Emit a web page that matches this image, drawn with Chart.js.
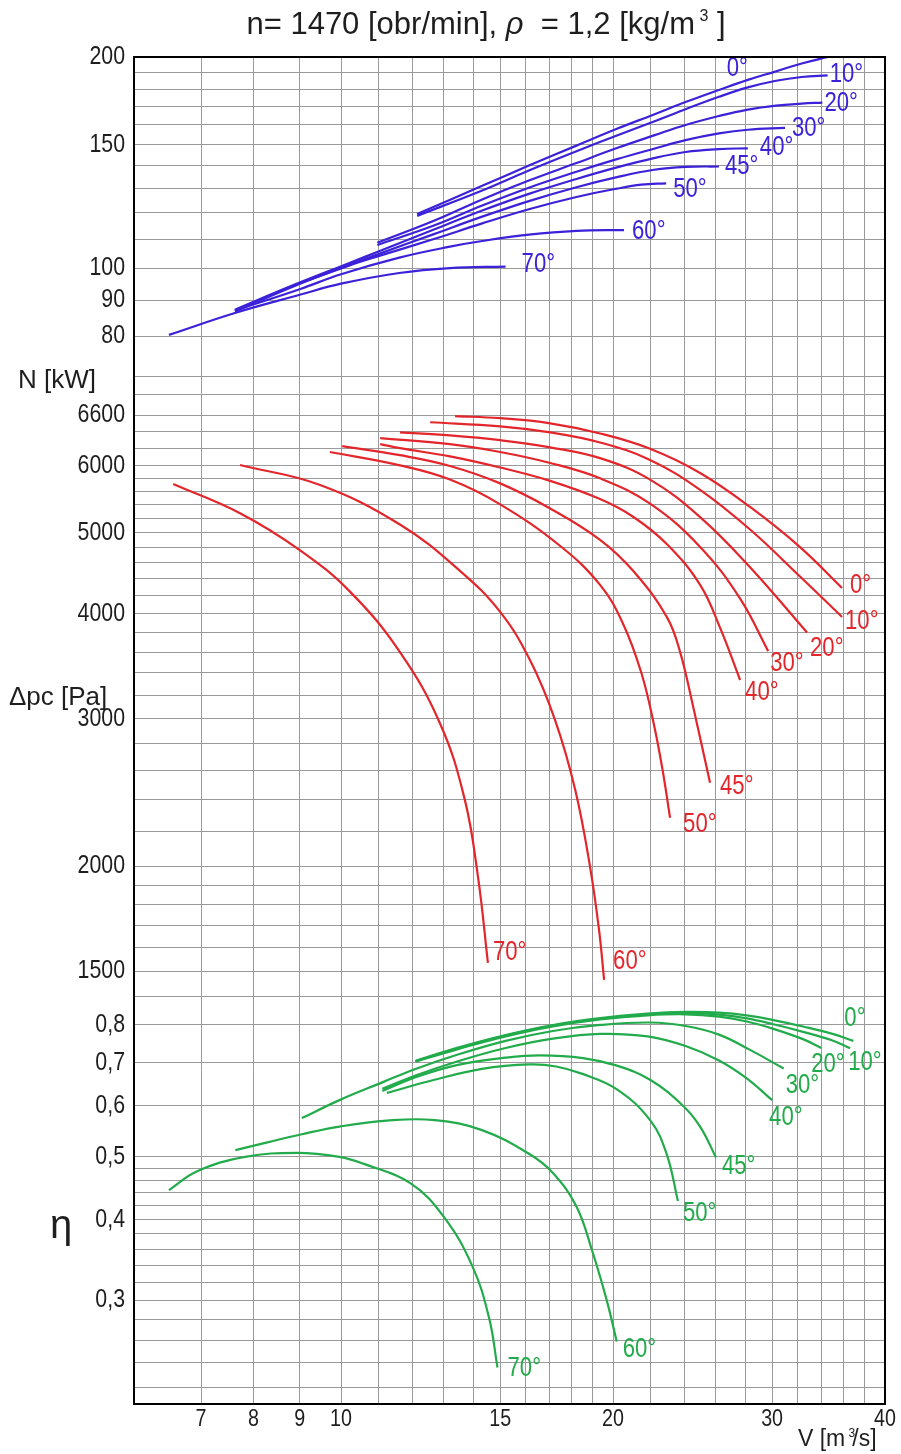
<!DOCTYPE html>
<html>
<head>
<meta charset="utf-8">
<title>Charakterystyka wentylatora</title>
<script src="https://cdn.jsdelivr.net/npm/chart.js@4"></script>
<style>
  html, body { margin: 0; padding: 0; background: #fff; }
  #wrap { position: relative; width: 901px; height: 1454px; }
</style>
</head>
<body>
<div id="wrap"><canvas id="fanChart"></canvas></div>
<script>
// blade angle of every curve, same order in all three panels
const angles = ['0°', '10°', '20°', '30°', '40°', '45°', '50°', '60°', '70°'];

// x axis: flow V [m3/s]
const vGrid = [7, 8, 9, 10, 11, 12, 13, 14, 15, 16, 17, 18, 19, 20, 22, 24, 26, 28, 30, 32, 34, 36, 38, 40];
const vLabeled = [7, 8, 9, 10, 15, 20, 30, 40];

// power panel N [kW]
const nGrid = [70, 80, 90, 100, 110, 120, 130, 140, 150, 160, 170, 180, 190, 200];
const nLabeled = [80, 90, 100, 150, 200];

// pressure panel dpc [Pa]
const pGrid = [7300, 6900, 6600, 6300, 6000, 5800, 5600, 5400, 5200, 5000, 4800, 4600, 4400, 4200,
  4000, 3800, 3600, 3400, 3200, 3000, 2800, 2600, 2400, 2200, 2000, 1900, 1800, 1700, 1600, 1500, 1400];
const pLabels = [[6900, '6600'], [6000, '6000'], [5000, '5000'], [4000, '4000'], [3000, '3000'], [2000, '2000'], [1500, '1500']];

// efficiency panel
const etaGrid = [0.22, 0.24, 0.26, 0.28, 0.3, 0.32, 0.34, 0.36, 0.38, 0.4, 0.42, 0.44, 0.46, 0.48, 0.5, 0.6, 0.7, 0.8];
const etaLabeled = [0.3, 0.4, 0.5, 0.6, 0.7, 0.8];

// N(V) curves, [V, N]
const powerCurves = [
  [[12.14, 119.4], [14.33, 131], [16.14, 140], [18.22, 149.5], [20.2, 158], [22.2, 165.6], [24.06, 172.5], [26.2, 179.5], [28.2, 185.5], [30.3, 190.8], [32.35, 195.8], [34.56, 200]],
  [[12.14, 118.7], [14.33, 129], [16.14, 137.8], [18.22, 146.8], [20.2, 154.6], [22.2, 161.8], [24.06, 168.5], [26.2, 175.5], [28.2, 181], [30.3, 185], [32.35, 187.3], [34.56, 188.3]],
  [[10.97, 108.7], [12.67, 116.8], [14.33, 125.3], [16.14, 133.3], [18.22, 141.2], [20.2, 148.3], [22.2, 154.6], [24.06, 160], [26.2, 164.8], [28.2, 168.3], [30.3, 170.5], [32.35, 171.6], [34.1, 172.2]],
  [[10.97, 107.9], [12.67, 115], [14.33, 122.8], [16.14, 130.2], [18.22, 137.2], [20.2, 143], [22.2, 148], [24.06, 152.2], [26.2, 155.6], [28.2, 157.5], [31, 158.5]],
  [[7.63, 87.2], [8.83, 94.4], [10.2, 101.6], [11, 105.6], [12.67, 113.5], [14.33, 120.8], [16.14, 127.6], [18.22, 134], [20.2, 139.2], [22.2, 143.5], [24.06, 146.4], [26.2, 147.8], [28.2, 148.2]],
  [[7.63, 86.7], [8.83, 94], [10.2, 101], [11, 104.7], [12.67, 111.8], [14.33, 118.4], [16.14, 124.6], [18.22, 130.4], [20.2, 134.8], [22.2, 138.1], [24.06, 139.4], [26.2, 139.6]],
  [[7.63, 87], [8.83, 94.2], [10.2, 100.8], [11, 104], [12.67, 110], [14.33, 115.8], [16.14, 121.3], [18.22, 126.3], [20.2, 129.8], [21.5, 131.5], [22.9, 132.1]],
  [[7.63, 87], [9.0, 93.3], [10, 98], [11.6, 103.5], [13.2, 107.3], [14.33, 109.3], [16.14, 111.6], [18.22, 113], [20.57, 113.3]],
  [[6.45, 80.3], [7.63, 86.3], [9.0, 91.6], [10, 95], [11.6, 98.4], [13.2, 100], [15.21, 100.5]]
];

// dpc(V) curves, [V, dpc]
const pressureCurves = [
  [[13.37, 6880], [15, 6840], [17.04, 6745], [19.35, 6560], [21.98, 6290], [24.97, 5886], [28.36, 5362], [32.21, 4803], [35.85, 4293]],
  [[12.55, 6765], [15, 6690], [17.04, 6580], [19.35, 6400], [21.98, 6100], [24.97, 5620], [28.36, 5040], [32.21, 4430], [35.85, 3965]],
  [[11.62, 6580], [13.2, 6525], [15, 6440], [17.04, 6315], [19.35, 6130], [21.98, 5780], [24.97, 5215], [28.36, 4545], [32.79, 3800]],
  [[11.05, 6475], [13.2, 6370], [15, 6235], [17.04, 6050], [19.35, 5800], [21.98, 5410], [24.97, 4805], [27.65, 4170], [29.7, 3610]],
  [[11.05, 6370], [11.62, 6300], [13.2, 6160], [15, 5975], [17.04, 5760], [19.35, 5480], [21.05, 5220], [22.95, 4840], [24.97, 4330], [26.27, 3850], [27.65, 3335]],
  [[10.03, 6335], [11.62, 6180], [13.2, 6000], [15, 5720], [17.04, 5340], [19.35, 4900], [21.05, 4500], [22.95, 3960], [23.73, 3600], [24.53, 3100], [25.61, 2515]],
  [[9.72, 6235], [11.62, 6010], [13.2, 5780], [15, 5400], [17.47, 4820], [19.35, 4330], [20.5, 3900], [21.5, 3400], [22.2, 2950], [22.7, 2600], [23.13, 2285]],
  [[7.73, 6015], [9.48, 5695], [11.62, 5110], [13.54, 4500], [15, 4020], [16.19, 3520], [17.25, 2990], [18.16, 2470], [18.86, 2000], [19.3, 1680], [19.55, 1465]],
  [[6.52, 5710], [7.73, 5270], [9.01, 4760], [10.23, 4250], [11.62, 3600], [12.87, 2960], [13.71, 2400], [14.18, 1940], [14.54, 1535]]
];

// eta(V) curves, [V, eta]
const etaCurves = [
  [[12.09, 0.704], [13.47, 0.738], [15.21, 0.772], [17.16, 0.8], [19.36, 0.82], [21.84, 0.833], [24.06, 0.838], [26.2, 0.836], [28.13, 0.828], [30.1, 0.814], [32.54, 0.795], [34.99, 0.775], [36.9, 0.756]],
  [[12.09, 0.703], [13.47, 0.736], [15.21, 0.77], [17.16, 0.798], [19.36, 0.818], [21.84, 0.831], [24.06, 0.835], [26.2, 0.83], [28.13, 0.819], [30.1, 0.802], [32.54, 0.78], [34.99, 0.757], [36.6, 0.736]],
  [[12.09, 0.702], [13.47, 0.734], [15.21, 0.768], [17.16, 0.796], [19.36, 0.816], [21.84, 0.828], [24.06, 0.831], [26.2, 0.824], [28.13, 0.81], [30.1, 0.789], [32.5, 0.76], [34.0, 0.737]],
  [[9.05, 0.574], [9.96, 0.612], [11.11, 0.652], [12.09, 0.684], [13.47, 0.72], [15.21, 0.756], [17.16, 0.783], [19.36, 0.8], [22, 0.807], [24.06, 0.797], [26.2, 0.773], [28.36, 0.732], [30.9, 0.685]],
  [[11.11, 0.637], [12.09, 0.668], [13.47, 0.703], [15.21, 0.737], [17.16, 0.762], [19.36, 0.775], [21.84, 0.768], [24.06, 0.742], [26.2, 0.705], [28.1, 0.662], [30.0, 0.612]],
  [[11.11, 0.632], [12.09, 0.664], [13.47, 0.694], [15.21, 0.712], [16.6, 0.718], [18.53, 0.711], [20.2, 0.692], [21.98, 0.658], [23.9, 0.6], [24.97, 0.557], [26.0, 0.499]],
  [[11.24, 0.628], [12.69, 0.658], [14.32, 0.684], [16.16, 0.695], [17.3, 0.69], [18.5, 0.672], [20.2, 0.636], [21.98, 0.57], [22.93, 0.505], [23.6, 0.427]],
  [[7.64, 0.512], [8.31, 0.527], [9.05, 0.542], [9.96, 0.557], [11.24, 0.569], [12.69, 0.57], [14.32, 0.55], [16.16, 0.505], [17.16, 0.472], [18.22, 0.419], [18.95, 0.359], [19.68, 0.3], [20.19, 0.259]],
  [[6.45, 0.444], [6.93, 0.475], [7.83, 0.5], [8.94, 0.507], [9.96, 0.5], [10.58, 0.488], [11.94, 0.455], [12.99, 0.404], [13.97, 0.339], [14.58, 0.282], [14.9, 0.236]]
];

// where each angle label sits relative to the end of its curve (px)
const powerLabelPos = [[-101, 12], [2, -1], [2, 1], [7, 1], [12, -1], [6, 0], [7, 6], [8, 1], [16, -2]];
const pressureLabelPos = [[8, -2], [3, 5], [3, 16], [2, 12], [5, 13], [10, 4], [13, 7], [9, -18], [5, -10]];
const etaLabelPos = [[-9, -22], [-2, 14], [-10, 17], [2, 17], [-3, 17], [6, 9], [5, 12], [6, 8], [10, 1]];

const BLUE = '#3b22d9';
const RED = '#e3262b';
const GREEN = '#22ab4b';
const GRID = '#9a9a9a';
const TEXT = '#1e1e1e';
const SANS = '"Liberation Sans", Arial, sans-serif';
const SQUEEZE = 0.82; // narrow look for numbers and curve labels

function curveSets(curves, axisId, color, labelPos) {
  return curves.map((pts, i) => ({
    label: angles[i],
    data: pts.map(([x, y]) => ({ x, y })),
    yAxisID: axisId,
    borderColor: color,
    borderWidth: 2.2,
    pointRadius: 0,
    fill: false,
    tension: 0.4,
    labelPos: labelPos[i]
  }));
}

const fmtComma = v => String(v).replace('.', ',');

function logAxis(grid, min, max, weight, stackWeight) {
  return {
    type: 'logarithmic',
    position: 'left',
    stack: 'panels',
    stackWeight,
    weight,
    min,
    max,
    afterBuildTicks: s => { s.ticks = grid.map(v => ({ value: v })); },
    afterFit: s => { s.width = 134; },
    ticks: { display: false, autoSkip: false },
    grid: { color: GRID, lineWidth: 1, drawTicks: false },
    border: { color: '#000', width: 2 }
  };
}

// condensed text: plain font squeezed horizontally
function narrowText(ctx, text, x, y, align) {
  ctx.save();
  ctx.translate(x, y);
  ctx.scale(SQUEEZE, 1);
  ctx.textAlign = align;
  ctx.fillText(text, 0, 0);
  ctx.restore();
}

// tick numbers, title, axis names, curve labels and the frame
const annotate = {
  id: 'annotate',
  afterDatasetsDraw(chart) {
    const { ctx } = chart;
    ctx.save();
    ctx.textBaseline = 'middle';
    ctx.font = '27px ' + SANS;
    chart.data.datasets.forEach((ds, i) => {
      const pts = chart.getDatasetMeta(i).data;
      const end = pts[pts.length - 1];
      ctx.fillStyle = ds.borderColor;
      narrowText(ctx, ds.label, end.x + ds.labelPos[0], end.y + ds.labelPos[1], 'left');
    });
    ctx.restore();
  },
  afterDraw(chart) {
    const { ctx, chartArea: a, scales } = chart;
    ctx.save();
    ctx.strokeStyle = '#000';
    ctx.lineWidth = 2;
    ctx.strokeRect(a.left, a.top, a.right - a.left, a.bottom - a.top);

    // tick numbers
    ctx.fillStyle = TEXT;
    ctx.textBaseline = 'middle';
    ctx.font = '26px ' + SANS;
    nLabeled.forEach(v => narrowText(ctx, String(v), 125, scales.yN.getPixelForValue(v), 'right'));
    pLabels.forEach(([v, t]) => narrowText(ctx, t, 125, scales.yP.getPixelForValue(v), 'right'));
    etaLabeled.forEach(v => narrowText(ctx, fmtComma(v), 125, scales.yEta.getPixelForValue(v), 'right'));
    ctx.font = '24px ' + SANS;
    vLabeled.forEach(v => narrowText(ctx, String(v), scales.x.getPixelForValue(v), 1419, 'center'));

    ctx.textBaseline = 'alphabetic';
    ctx.textAlign = 'left';

    // title, built from pieces so rho can be italic and 3 raised
    const parts = [
      ['n= 1470 [obr/min], ', '31px ' + SANS, 0],
      ['ρ', 'italic 31px ' + SANS, 0],
      ['  = 1,2 [kg/m', '31px ' + SANS, 0],
      [' 3', '16px ' + SANS, -13],
      [' ]', '31px ' + SANS, 0]
    ];
    let w = 0;
    parts.forEach(([t, f]) => { ctx.font = f; w += ctx.measureText(t).width; });
    let x = 486 - w / 2;
    parts.forEach(([t, f, dy]) => {
      ctx.font = f;
      ctx.fillText(t, x, 34 + dy);
      x += ctx.measureText(t).width;
    });

    ctx.font = '26px ' + SANS;
    ctx.fillText('N [kW]', 18, 388);
    ctx.fillText('Δpc [Pa]', 9, 705);
    ctx.font = '40px ' + SANS;
    ctx.fillText('η', 50, 1238);

    // x axis name
    let vx = 798;
    [['V [m', 0, 23], [' 3', -9, 12], ['/s]', 0, 23]].forEach(([t, dy, size]) => {
      ctx.font = size + 'px ' + SANS;
      ctx.fillText(t, vx, 1446 + dy);
      vx += ctx.measureText(t).width - (size === 12 ? 3 : 0);
    });
    ctx.restore();
  }
};

const datasets = [
  ...curveSets(powerCurves, 'yN', BLUE, powerLabelPos),
  ...curveSets(pressureCurves, 'yP', RED, pressureLabelPos),
  ...curveSets(etaCurves, 'yEta', GREEN, etaLabelPos)
];

new Chart(document.getElementById('fanChart'), {
  type: 'line',
  data: { datasets },
  options: {
    responsive: true,
    maintainAspectRatio: false,
    animation: false,
    devicePixelRatio: 1,
    layout: { padding: { top: 57, right: 16, bottom: 0, left: 0 } },
    plugins: {
      legend: { display: false },
      tooltip: { enabled: false },
      title: { display: false }
    },
    scales: {
      x: {
        type: 'logarithmic',
        min: 5.9,
        max: 40,
        afterBuildTicks: s => { s.ticks = vGrid.map(v => ({ value: v })); },
        afterFit: s => { s.height = 50; },
        ticks: { display: false, autoSkip: false },
        grid: { color: GRID, lineWidth: 1, drawTicks: false },
        border: { color: '#000', width: 2 }
      },
      yEta: logAxis(etaGrid, 0.2072, 0.859, 1, 399),
      yP: logAxis(pGrid, 1367, 7330, 2, 612),
      yN: logAxis(nGrid, 66.35, 200, 3, 336)
    }
  },
  plugins: [annotate]
});
</script>
</body>
</html>
